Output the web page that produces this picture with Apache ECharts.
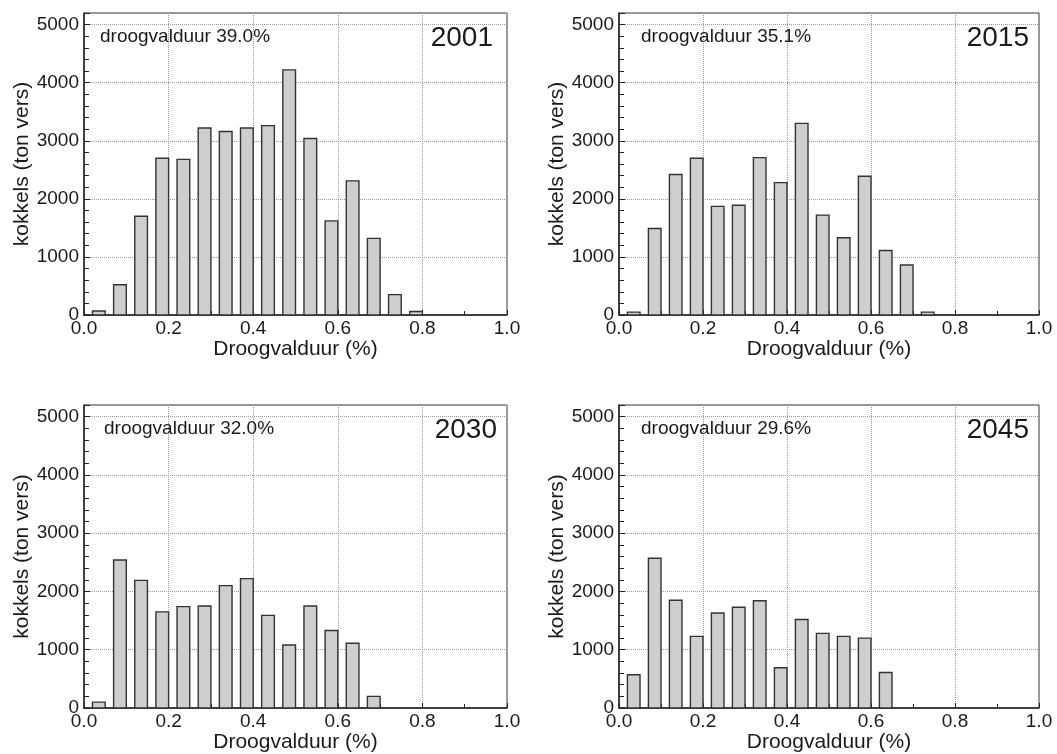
<!DOCTYPE html>
<html>
<head>
<meta charset="utf-8">
<script src="https://cdn.jsdelivr.net/npm/echarts@6/dist/echarts.min.js"></script>
<style>
html,body{margin:0;padding:0;background:#fff;}
#chart{width:1057px;height:754px;}
</style>
</head>
<body>
<div id="chart"></div>
<script>
// Bin start values of the drying-duration classes (fraction), width 0.05
const binStarts = [0.00,0.05,0.10,0.15,0.20,0.25,0.30,0.35,0.40,0.45,0.50,0.55,0.60,0.65,0.70,0.75,0.80,0.85,0.90,0.95];
const years = ['2001','2015','2030','2045'];
const droogLabels = ['droogvalduur 39.0%','droogvalduur 35.1%','droogvalduur 32.0%','droogvalduur 29.6%'];
const vals2001 = [70,520,1700,2700,2680,3220,3160,3220,3260,4220,3040,1620,2310,1320,350,60,0,0,0,0];
const vals2015 = [50,1490,2420,2700,1870,1890,2710,2280,3300,1720,1330,2390,1110,860,50,0,0,0,0,0];
const vals2030 = [100,2540,2190,1650,1740,1750,2100,2220,1590,1080,1750,1330,1110,200,0,0,0,0,0,0];
const vals2045 = [570,2570,1850,1230,1630,1730,1840,690,1520,1280,1230,1200,610,0,0,0,0,0,0,0];
const yTicks = [0,1000,2000,3000,4000,5000];
const xTicks = [0.0,0.2,0.4,0.6,0.8,1.0];
const allVals = [vals2001, vals2015, vals2030, vals2045];

const FONT = '"Liberation Sans", Arial, Helvetica, sans-serif';
const TXT = '#1a1a1a';
const grids = [
  {left:84, top:13, width:423, height:302},
  {left:619, top:13, width:420, height:302},
  {left:84, top:405, width:423, height:303},
  {left:619, top:405, width:420, height:303}
];
const binW = 0.05;
const barFrac = 0.6; // bar covers right 60% of each bin

const option = {
  backgroundColor:'#fff',
  animation:false,
  grid: grids.map(g => Object.assign({show:true, borderColor:'#333', borderWidth:1, containLabel:false}, g)),
  xAxis: grids.map((g,i) => ({
    type:'value', gridIndex:i, min:0, max:1, interval:0.2,
    name:'Droogvalduur (%)', nameLocation:'middle', nameGap:24,
    nameTextStyle:{fontSize:21, color:TXT, fontFamily:FONT},
    axisLine:{show:true, onZero:false, lineStyle:{color:'#222', width:1.5}},
    axisTick:{show:true, inside:true, length:5, lineStyle:{color:'#222'}},
    minorTick:{show:true, splitNumber:2, length:4, lineStyle:{color:'#222'}},
    axisLabel:{fontSize:19, color:TXT, fontFamily:FONT, margin:4,
      formatter: v => { const t = xTicks.find(x => Math.abs(x - v) < 1e-6); return t === undefined ? '' : t.toFixed(1); }},
    splitLine:{show:true, lineStyle:{type:'dotted', color:'#999', width:1}}
  })),
  yAxis: grids.map((g,i) => ({
    type:'value', gridIndex:i, min:0, max:5200, interval:1000,
    name:'kokkels (ton vers)', nameLocation:'middle', nameGap:50,
    nameTextStyle:{fontSize:21, color:TXT, fontFamily:FONT},
    axisLine:{show:true, onZero:false, lineStyle:{color:'#222', width:1.5}},
    axisTick:{show:true, inside:true, length:6, lineStyle:{color:'#222'}},
    minorTick:{show:true, splitNumber:5, length:5, lineStyle:{color:'#222'}},
    axisLabel:{fontSize:19, color:TXT, fontFamily:FONT, margin:5, showMaxLabel:false,
      formatter: v => yTicks.indexOf(v) >= 0 ? String(v) : ''},
    splitLine:{show:true, lineStyle:{type:'dotted', color:'#999', width:1}}
  })),
  series: allVals.map((vals,i) => ({
    type:'custom', xAxisIndex:i, yAxisIndex:i,
    data: binStarts.map((b,k) => [b, vals[k]]),
    renderItem: (params, api) => {
      const x0 = api.value(0);
      const v = api.value(1);
      if (!v) return null;
      const p1 = api.coord([x0 + binW*(1-barFrac), v]);
      const p2 = api.coord([x0 + binW, 0]);
      return {
        type:'rect',
        shape:{x:p1[0], y:p1[1], width:p2[0]-p1[0], height:p2[1]-p1[1]},
        style:{fill:'#cecece', stroke:'#333', lineWidth:1.4}
      };
    },
    z:3
  })),
  graphic: []
};

const droogPos = [[100,37],[641,37],[104,429],[641,429]];
const yearPos = [[493,38],[1029,38],[497,430],[1029,430]];
for (let i=0;i<4;i++){
  option.graphic.push({type:'text', x:droogPos[i][0], y:droogPos[i][1], z:10,
    style:{text:droogLabels[i], fontSize:19, fontFamily:FONT, fill:TXT, textAlign:'left', textVerticalAlign:'middle'}});
  option.graphic.push({type:'text', x:yearPos[i][0], y:yearPos[i][1], z:10,
    style:{text:years[i], fontSize:28, fontFamily:FONT, fill:TXT, textAlign:'right', textVerticalAlign:'middle'}});
}

const chart = echarts.init(document.getElementById('chart'), null, {renderer:'canvas'});
chart.setOption(option);
</script>
</body>
</html>
